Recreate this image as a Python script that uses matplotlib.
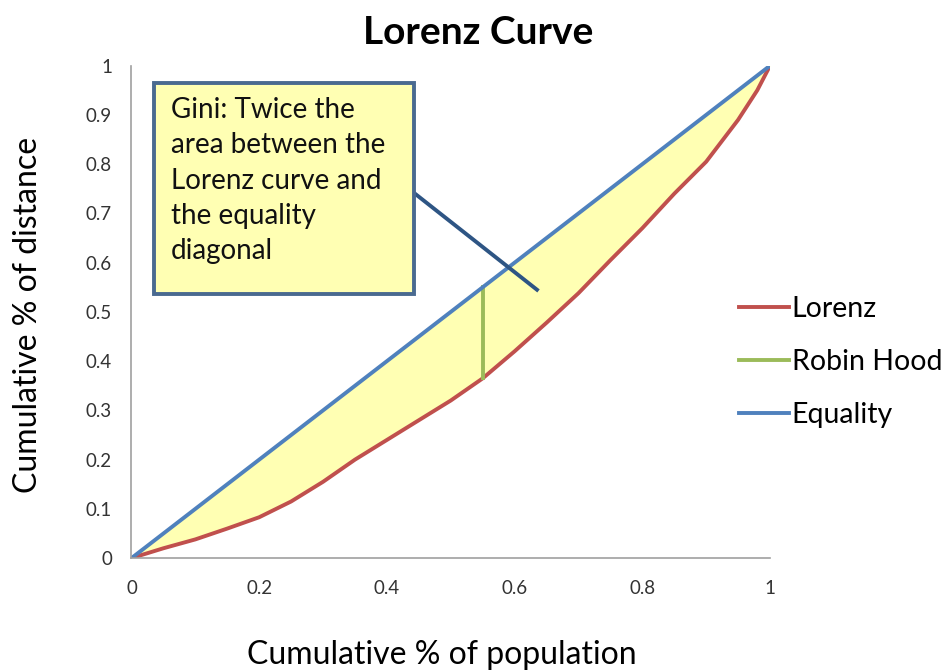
import numpy as np
import matplotlib
matplotlib.use("Agg")
import matplotlib.pyplot as plt
from matplotlib.patches import Rectangle

plt.rcParams['font.family'] = ['Lato', 'DejaVu Sans']

# cumulative population share and the Lorenz curve
population = [0, 0.05, 0.1, 0.15, 0.2, 0.25, 0.3, 0.35, 0.4, 0.45, 0.5, 0.55,
              0.6, 0.65, 0.7, 0.75, 0.8, 0.85, 0.9, 0.95, 0.98, 1.0]
lorenz = [0, 0.02, 0.038, 0.06, 0.083, 0.115, 0.155, 0.2, 0.24, 0.28, 0.32, 0.365,
          0.42, 0.478, 0.538, 0.605, 0.67, 0.74, 0.805, 0.89, 0.95, 1.0]
equality = population
robin_x = 0.55
robin_y = [0.365, 0.55]

ticks = [0, 0.1, 0.2, 0.3, 0.4, 0.5, 0.6, 0.7, 0.8, 0.9, 1]
xticks = [0, 0.2, 0.4, 0.6, 0.8, 1]

fig = plt.figure(figsize=(9.46, 6.70), dpi=100)
ax = fig.add_axes([0.139, 0.167, 0.675, 0.735])

ax.fill_between(population, lorenz, equality, color='#FFFFB3', lw=0)
ax.plot(population, lorenz, color='#C0504D', lw=2.8, label='Lorenz')
ax.plot([robin_x, robin_x], robin_y, color='#9BBB59', lw=2.8, label='Robin Hood')
ax.plot(population, equality, color='#4F81BD', lw=2.8, label='Equality')

ax.set_xlim(0, 1)
ax.set_ylim(0, 1)
ax.set_xticks(xticks)
ax.set_xticklabels(['0', '0.2', '0.4', '0.6', '0.8', '1'])
ax.set_yticks(ticks)
ax.set_yticklabels(['0', '0.1', '0.2', '0.3', '0.4', '0.5', '0.6', '0.7', '0.8', '0.9', '1'])
ax.tick_params(axis='y', length=0, labelsize=13.5, colors='#333333', pad=14)
ax.tick_params(axis='x', length=0, labelsize=13.5, colors='#333333', pad=16)
for s in ['top', 'right']:
    ax.spines[s].set_visible(False)
for s in ['left', 'bottom']:
    ax.spines[s].set_color('#A0A0A0')
    ax.spines[s].set_linewidth(1.2)

# connector from the note to the shaded area
ax.plot([0.443, 0.635], [0.741, 0.545], color='#2E5584', lw=2.8, zorder=4)

ax.add_patch(Rectangle((0.036, 0.537), 0.407, 0.428, fc='#FFFFB3', ec='#4A6A90',
                       lw=2.8, zorder=5, clip_on=False))
ax.text(0.062, 0.937, 'Gini: Twice the\narea between the\nLorenz curve and\nthe equality\ndiagonal',
        fontsize=20, va='top', ha='left', linespacing=1.45, zorder=6, color='#111111')

fig.text(0.505, 0.952, 'Lorenz Curve', fontsize=28, fontweight='bold', ha='center', va='center')
fig.text(0.467, 0.022, 'Cumulative % of population', fontsize=23, ha='center', va='center')
fig.text(0.03, 0.53, 'Cumulative % of distance', fontsize=23, ha='center', va='center', rotation=90)

fig.legend(loc='center left', bbox_to_anchor=(0.766, 0.46), frameon=False, fontsize=20.5,
           handlelength=1.75, handletextpad=0.1, labelspacing=0.95, borderpad=0)

fig.savefig('out.png', dpi=100)
